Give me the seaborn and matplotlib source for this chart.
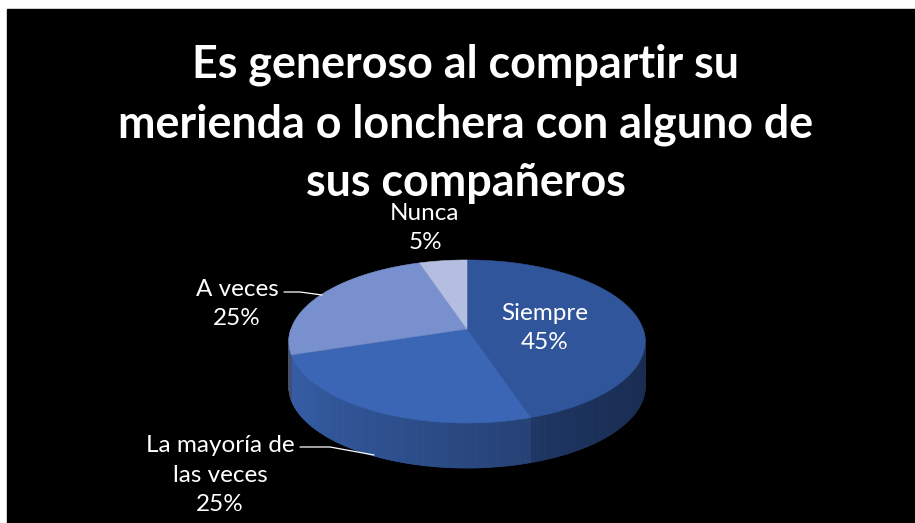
import numpy as np
import matplotlib.pyplot as plt
import seaborn as sns

sns.set_style('white')
plt.rcParams['font.family'] = ['Lato', 'DejaVu Sans']

# data
categories = ['Siempre', 'La mayoría de\nlas veces', 'A veces', 'Nunca']
values = [45, 25, 25, 5]
top_colors = ['#30559A', '#3B66B5', '#7890CD', '#B4BEE0']
title = 'Es generoso al compartir su\nmerienda o lonchera con alguno de\nsus compañeros'

colors = sns.color_palette(top_colors)

fig = plt.figure(figsize=(9.15, 5.23), dpi=100)
fig.patch.set_facecolor('white')
ax = fig.add_axes([0, 0, 1, 1])
ax.set_xlim(0, 915)
ax.set_ylim(523, 0)
ax.axis('off')

# black chart area
ax.fill([7, 915, 915, 7], [9, 9, 523, 523], color='black', zorder=0)

# 3d pie geometry (pixels), simple perspective
cx, cy = 467, 329
A, B, k = 176, 79.6, 0.153
depth = 45

total = float(sum(values))
starts = 90 - 360 * np.cumsum([0] + values[:-1]) / total
ends = starts - 360 * np.array(values) / total


def pt(phi_deg, dy=0):
    r = np.radians(phi_deg)
    d = 1 + k * np.sin(r)
    return cx + A * np.cos(r) / d, cy - B * np.sin(r) / d + dy


# side walls (front half only), shaded strips
for s, e, c in zip(starts, ends, colors):
    lo, hi = sorted([s, e])
    for off in (-360, 0, 360):
        l2, h2 = max(lo + off, 180), min(hi + off, 360)
        if h2 <= l2:
            continue
        phis = np.linspace(l2, h2, max(int((h2 - l2) * 2), 2))
        for p0, p1 in zip(phis[:-1], phis[1:]):
            pm = np.radians((p0 + p1) / 2)
            f = 0.72 - 0.2 * np.cos(pm)
            if c == colors[2]:
                f *= 0.6
            col = tuple(min(1, ch * f) for ch in c)
            x0, y0 = pt(p0)
            x1, y1 = pt(p1)
            ax.fill([x0, x1, x1, x0], [y0, y1, y1 + depth, y0 + depth],
                    color=col, lw=0.6, ec=col, zorder=1)

# top faces
for s, e, c in zip(starts, ends, colors):
    phis = np.linspace(s, e, 200)
    xs, ys = pt(phis)
    ax.fill(np.r_[cx, xs], np.r_[cy, ys], color=c, lw=0.4, ec=c, zorder=2)

# title
ax.text(466, 124, title, ha='center', va='center', color='white',
        fontsize=32.3, fontweight='bold', linespacing=1.5, zorder=3)

# data labels
lab_kw = dict(ha='center', va='center', color='white', fontsize=17.5, linespacing=1.5, zorder=3)
pos = [(545, 328), (220, 475), (237, 304), (425, 228)]
for (x, y), cat, v in zip(pos, categories, values):
    ax.text(x, y, f'{cat}\n{v}%', **lab_kw)

# leader lines
ax.plot([284, 300, 322], [292, 292, 295], color='white', lw=0.9, zorder=3)
ax.plot([300, 330, 374], [447, 447, 455], color='white', lw=0.9, zorder=3)

fig.savefig('out.png', dpi=100, facecolor='white')
